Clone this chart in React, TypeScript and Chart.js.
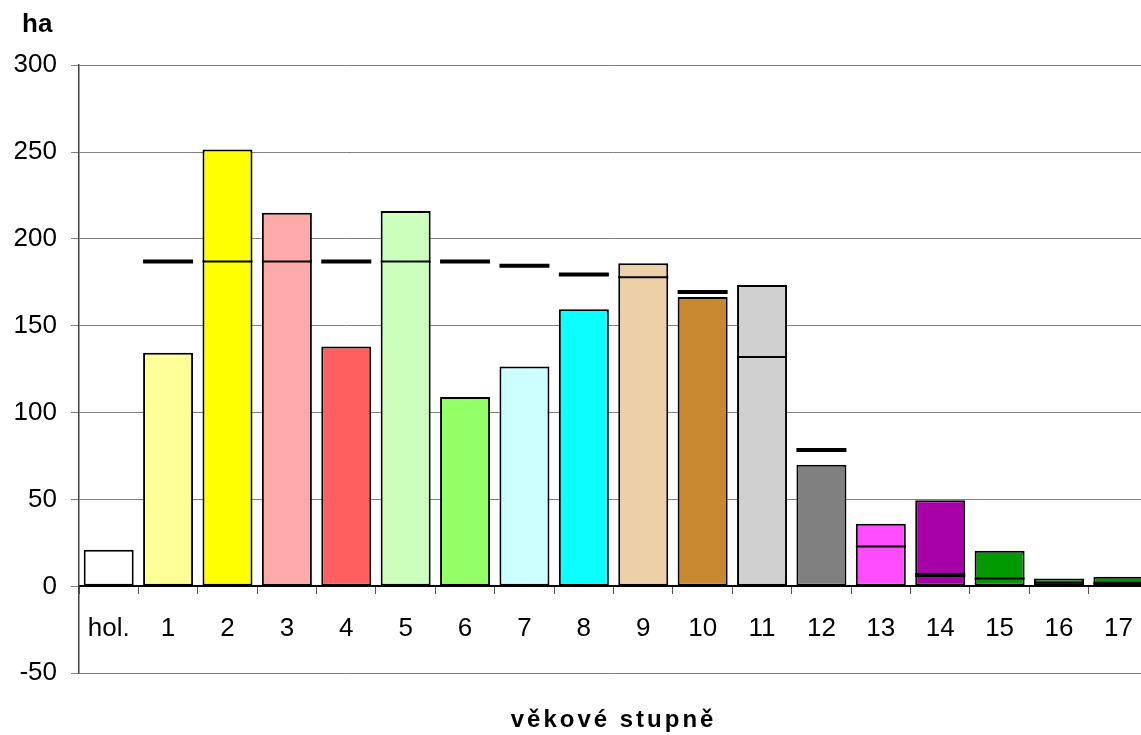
import React, { useEffect, useRef } from "react";
import { Chart, registerables } from "chart.js";

Chart.register(...registerables);

const categories = ["hol.", "1", "2", "3", "4", "5", "6", "7", "8", "9", "10", "11", "12", "13", "14", "15", "16", "17"];
const actualArea = [21, 134.5, 251.5, 215, 138, 216, 109, 126.5, 159.5, 186, 166.5, 173.5, 70, 36, 49.5, 20.5, 4.5, 5.5];
const normalArea = [null, 187, 187, 187, 187, 187, 187, 184.5, 179.5, 178, 169.5, 132, 78.5, 23, 6.5, 4.5, 2, 1.5];
const barColors = [
  "#FFFFFF", "#FFFF99", "#FFFF00", "#FFAAAA", "#FF5F5F", "#CCFFBB", "#92FF66", "#CCFFFF", "#0BFFFF",
  "#ECD0A8", "#C88830", "#D0D0D0", "#808080", "#FF4DFF", "#A800A8", "#009900", "#009900", "#009900",
];
const thickMarkCategories = ["14", "17"];
const yTicks = { min: -50, max: 300, step: 50 };
const yUnit = "ha";
const xTitle = "věkové stupně";

const FONT = "'Liberation Sans', Arial, sans-serif";

const titleTweaks = {
  id: "titleTweaks",
  afterLayout(chart: any) {
    const tb = chart.titleBlock;
    if (tb && !tb._spaced) {
      const orig = tb.draw.bind(tb);
      tb.draw = (...args: any[]) => {
        const ctx = chart.ctx;
        ctx.save();
        (ctx as any).letterSpacing = "3px";
        orig(...args);
        ctx.restore();
      };
      tb._spaced = true;
    }
    for (const box of chart.boxes) {
      if (tb && box !== tb && box.constructor === tb.constructor) {
        box.left = 22;
      }
    }
  },
};

export default function App() {
  const ref = useRef<HTMLCanvasElement>(null);
  useEffect(() => {
    if (!ref.current) return;
    const chart = new Chart(ref.current, {
      type: "bar",
      data: {
        labels: categories,
        datasets: [
          {
            type: "line",
            label: "normal",
            data: normalArea,
            showLine: false,
            pointStyle: "line",
            pointRadius: 25,
            pointHoverRadius: 25,
            pointBorderColor: "#000",
            pointBackgroundColor: "#000",
            pointBorderWidth: (c: any) => {
              const i = c.dataIndex;
              const n = normalArea[i];
              if (n == null) return 0;
              if (n > actualArea[i] || thickMarkCategories.includes(categories[i])) return 4;
              return 2;
            },
            order: 0,
          } as any,
          {
            type: "bar",
            label: "plocha",
            data: actualArea,
            backgroundColor: barColors,
            borderColor: "#000",
            borderWidth: 2,
            borderSkipped: false,
            categoryPercentage: 1,
            barPercentage: 0.842,
            order: 1,
          },
        ],
      },
      options: {
        responsive: false,
        animation: false,
        events: [],
        layout: { autoPadding: false, padding: { left: 0, right: 0, top: 0, bottom: 0 } },
        plugins: {
          legend: { display: false },
          tooltip: { enabled: false },
          subtitle: {
            display: true,
            text: yUnit,
            position: "top",
            align: "start",
            color: "#000",
            font: { family: FONT, size: 26, weight: "bold", lineHeight: 1.2 },
            padding: { top: 9, bottom: 25 },
          },
          title: {
            display: true,
            text: xTitle,
            position: "bottom",
            fullSize: false,
            color: "#000",
            font: { family: FONT, size: 24, weight: "bold", lineHeight: 1.2 },
            padding: { top: 33, bottom: 0 },
          },
        },
        scales: {
          x: {
            position: { y: 0 } as any,
            afterFit: (s: any) => {
              s.height = 0;
            },
            grid: { display: true, drawOnChartArea: false, drawTicks: true, tickLength: 7, color: "#555", offset: true },
            border: { display: true, color: "#000", width: 2 },
            ticks: { color: "#000", font: { family: FONT, size: 26 }, padding: 20, maxRotation: 0, autoSkip: false },
          },
          y: {
            min: yTicks.min,
            max: yTicks.max,
            afterFit: (s: any) => {
              s.width = 79;
            },
            ticks: { stepSize: yTicks.step, color: "#000", font: { family: FONT, size: 26 }, padding: 14 },
            grid: { color: "#808080", lineWidth: 1, tickLength: 8 },
            border: { color: "#404040", width: 1.5 },
          },
        },
      },
      plugins: [titleTweaks],
    });
    return () => chart.destroy();
  }, []);
  return (
    <div style={{ position: "fixed", left: 0, top: 0, width: 1141, height: 735, overflow: "hidden", background: "#fff" }}>
      <canvas ref={ref} width={1153} height={735} style={{ display: "block" }} />
    </div>
  );
}
